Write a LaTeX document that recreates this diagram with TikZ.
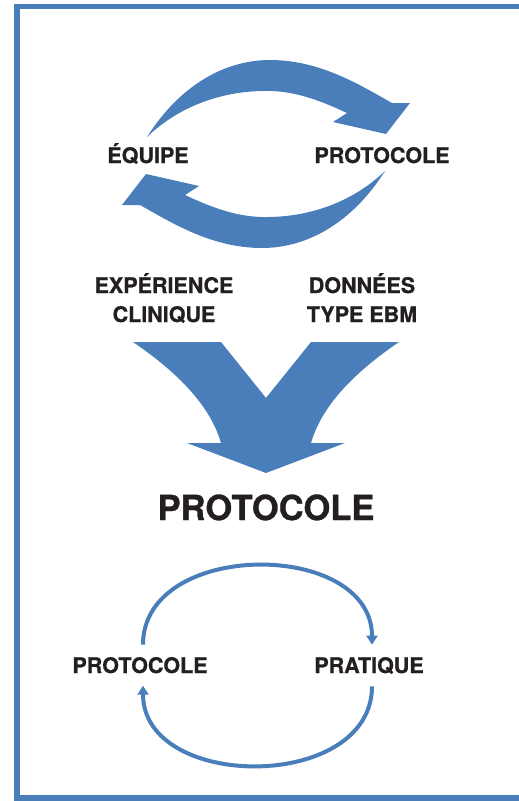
\documentclass[tikz,border=0pt]{standalone}
\usepackage{fontspec}
\setmainfont{TeX Gyre Heros}[BoldFeatures={FakeBold=0.8}]
\usetikzlibrary{arrows.meta, positioning, calc}
\definecolor{frameblue}{RGB}{74,126,187}
\definecolor{inkblack}{RGB}{35,31,32}
\tikzset{
  every picture/.style={line width=0.8pt},
  lbl/.style={font=\fontsize{21.5}{29}\selectfont\bfseries, text=inkblack, inner sep=0pt, anchor=base},
  biglbl/.style={font=\fontsize{34.5}{40}\selectfont\bfseries, text=inkblack, inner sep=0pt, anchor=base},
  bigarrow/.style={fill=frameblue, draw=none},
  cycle/.style={draw=frameblue, line width=4pt, -{Triangle[width=11pt,length=9pt]}}
}

\begin{document}
\begin{tikzpicture}[x=1pt, y=-1pt]
    \useasboundingbox (0,0) rectangle (519,801);
    \draw[frameblue, line width=5.5pt] (519,6.5) -- (17,6.5) -- (17,798) -- (519,798);

    % top loop
    \node [lbl] (equipe) at (148,163) {ÉQUIPE};
    \node [lbl] (proto1) at (382,163) {PROTOCOLE};

    \path[bigarrow] (147,137) .. controls (180,85) and (225,60) .. (270,60)
      .. controls (320,60) and (360,85) .. (392,103) -- (410,103) -- (386,134)
      -- (333,122) -- (347,113) .. controls (315,98) and (290,90) .. (262,91)
      .. controls (215,92) and (175,110) .. (147,137) -- cycle;
    \begin{scope}[rotate around={180:(266,154)}]
      \path[bigarrow] (147,137) .. controls (180,85) and (225,60) .. (270,60)
        .. controls (320,60) and (360,85) .. (392,103) -- (410,103) -- (386,134)
        -- (333,122) -- (347,113) .. controls (315,98) and (290,90) .. (262,91)
        .. controls (215,92) and (175,110) .. (147,137) -- cycle;
    \end{scope}

    % sources
    \node [lbl] (exp) at (164,293) {EXPÉRIENCE};
    \node [lbl] (clin) at ([yshift=-29pt]exp.base) {CLINIQUE};
    \node [lbl] (donn) at (362,293) {DONNÉES};
    \node [lbl] (ebm) at ([yshift=-29pt]donn.base) {TYPE EBM};

    \path[bigarrow] (133,342) -- (221,342) -- (266,398) -- (311,342) -- (399,342)
      .. controls (355,372) and (322,405) .. (311,443) -- (345,443) -- (266,473)
      -- (187,443) -- (221,443) .. controls (210,405) and (177,372) .. (133,342) -- cycle;

    \node [biglbl] (proto2) at (266,520) {PROTOCOLE};

    % bottom loop
    \node [lbl] (proto3) at (140,673) {PROTOCOLE};
    \node [lbl] (prat) at (369,673) {PRATIQUE};

    \draw[cycle] ([xshift=3pt,yshift=12pt]proto3.north) to[out=90, in=90, looseness=1.18] ([xshift=3pt,yshift=12pt]prat.north);
    \draw[cycle] ([xshift=3pt,yshift=-12pt]prat.south) to[out=-90, in=-90, looseness=1.18] ([xshift=3pt,yshift=-12pt]proto3.south);
  \end{tikzpicture}
\end{document}
